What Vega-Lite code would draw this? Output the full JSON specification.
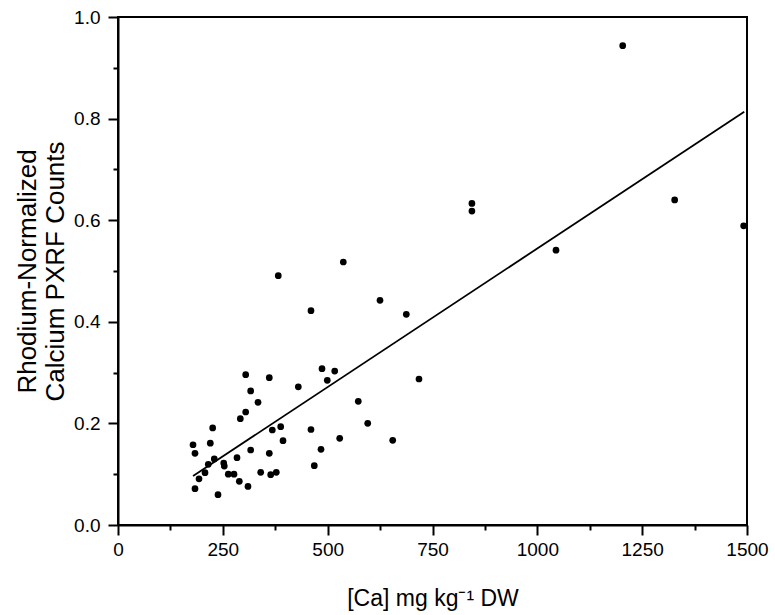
{
  "$schema": "https://vega.github.io/schema/vega-lite/v6.json",
  "width": 629,
  "height": 508,
  "autosize": "none",
  "padding": {"left": 118, "top": 17, "right": 28, "bottom": 90},
  "background": "white",
  "config": {
    "font": "Liberation Sans",
    "view": {"stroke": "black", "strokeWidth": 2},
    "axis": {
      "domainColor": "black", "domainWidth": 2,
      "tickColor": "black", "tickWidth": 2,
      "labelColor": "black", "titleColor": "black",
      "labelFont": "Liberation Sans", "titleFont": "Liberation Sans",
      "labelFontSize": 19, "titleFontSize": 23, "titleFontWeight": "normal",
      "grid": false
    }
  },
  "datasets": {
    "pts": [
      {"ca": 304.5, "counts": 0.296},
      {"ca": 360.8, "counts": 0.290},
      {"ca": 316.4, "counts": 0.264},
      {"ca": 430.0, "counts": 0.272},
      {"ca": 333.9, "counts": 0.2415},
      {"ca": 304.5, "counts": 0.2224},
      {"ca": 291.7, "counts": 0.2093},
      {"ca": 225.8, "counts": 0.191},
      {"ca": 178.9, "counts": 0.158},
      {"ca": 220.1, "counts": 0.161},
      {"ca": 183.6, "counts": 0.141},
      {"ca": 368.0, "counts": 0.187},
      {"ca": 388.0, "counts": 0.1935},
      {"ca": 393.5, "counts": 0.166},
      {"ca": 460.2, "counts": 0.188},
      {"ca": 316.4, "counts": 0.1476},
      {"ca": 360.8, "counts": 0.141},
      {"ca": 229.6, "counts": 0.130},
      {"ca": 283.8, "counts": 0.1325},
      {"ca": 215.3, "counts": 0.1195},
      {"ca": 252.1, "counts": 0.122},
      {"ca": 253.5, "counts": 0.116},
      {"ca": 207.5, "counts": 0.103},
      {"ca": 193.2, "counts": 0.091},
      {"ca": 263.0, "counts": 0.100},
      {"ca": 276.6, "counts": 0.100},
      {"ca": 340.3, "counts": 0.1037},
      {"ca": 364.1, "counts": 0.099},
      {"ca": 377.5, "counts": 0.1037},
      {"ca": 289.3, "counts": 0.086},
      {"ca": 310.0, "counts": 0.076},
      {"ca": 183.6, "counts": 0.0715},
      {"ca": 238.5, "counts": 0.0597},
      {"ca": 468.1, "counts": 0.1167},
      {"ca": 484.1, "counts": 0.149},
      {"ca": 460.2, "counts": 0.4218},
      {"ca": 624.8, "counts": 0.4423},
      {"ca": 687.5, "counts": 0.4148},
      {"ca": 486.5, "counts": 0.3077},
      {"ca": 516.8, "counts": 0.3031},
      {"ca": 499.1, "counts": 0.2848},
      {"ca": 717.8, "counts": 0.2874},
      {"ca": 573.0, "counts": 0.2435},
      {"ca": 595.5, "counts": 0.2002},
      {"ca": 528.7, "counts": 0.1707},
      {"ca": 655.1, "counts": 0.1667},
      {"ca": 382.2, "counts": 0.4907},
      {"ca": 537.3, "counts": 0.5177},
      {"ca": 1203.6, "counts": 0.9435},
      {"ca": 844.0, "counts": 0.633},
      {"ca": 844.0, "counts": 0.618},
      {"ca": 1044.5, "counts": 0.541},
      {"ca": 1327.5, "counts": 0.640},
      {"ca": 1492.0, "counts": 0.589}
    ],
    "fit": [
      {"ca": 179, "counts": 0.0965},
      {"ca": 1493.5, "counts": 0.8136}
    ]
  },
  "layer": [
    {
      "data": {"name": "fit"},
      "mark": {"type": "line", "color": "black", "strokeWidth": 1.8},
      "encoding": {
        "x": {"field": "ca", "type": "quantitative"},
        "y": {"field": "counts", "type": "quantitative"}
      }
    },
    {
      "data": {"name": "pts"},
      "mark": {"type": "circle", "color": "black", "opacity": 1, "size": 45},
      "encoding": {
        "x": {
          "field": "ca", "type": "quantitative",
          "scale": {"domain": [0, 1500], "nice": false, "zero": false},
          "axis": {
            "title": "[Ca] mg kg⁻¹ DW",
            "values": [0, 125, 250, 375, 500, 625, 750, 875, 1000, 1125, 1250, 1375, 1500],
            "labelExpr": "datum.value % 250 === 0 ? datum.label : ''",
            "format": "d",
            "tickSize": {"condition": {"test": "datum.value % 250 === 0", "value": 10}, "value": 5},
            "labelPadding": 5,
            "titlePadding": 28,
            "labelFlush": false,
            "labelOverlap": false
          }
        },
        "y": {
          "field": "counts", "type": "quantitative",
          "scale": {"domain": [0, 1], "nice": false},
          "axis": {
            "title": ["Rhodium-Normalized", "Calcium PXRF Counts"],
            "titleFontSize": 26,
            "titleLineHeight": 28,
            "values": [0, 0.1, 0.2, 0.3, 0.4, 0.5, 0.6, 0.7, 0.8, 0.9, 1.0],
            "labelExpr": "round(datum.value * 10) % 2 === 0 ? format(datum.value, '.1f') : ''",
            "tickSize": {"condition": {"test": "round(datum.value * 10) % 2 === 0", "value": 10}, "value": 5},
            "labelPadding": 8,
            "titlePadding": 5,
            "labelFlush": false,
            "labelOverlap": false
          }
        }
      }
    }
  ]
}
